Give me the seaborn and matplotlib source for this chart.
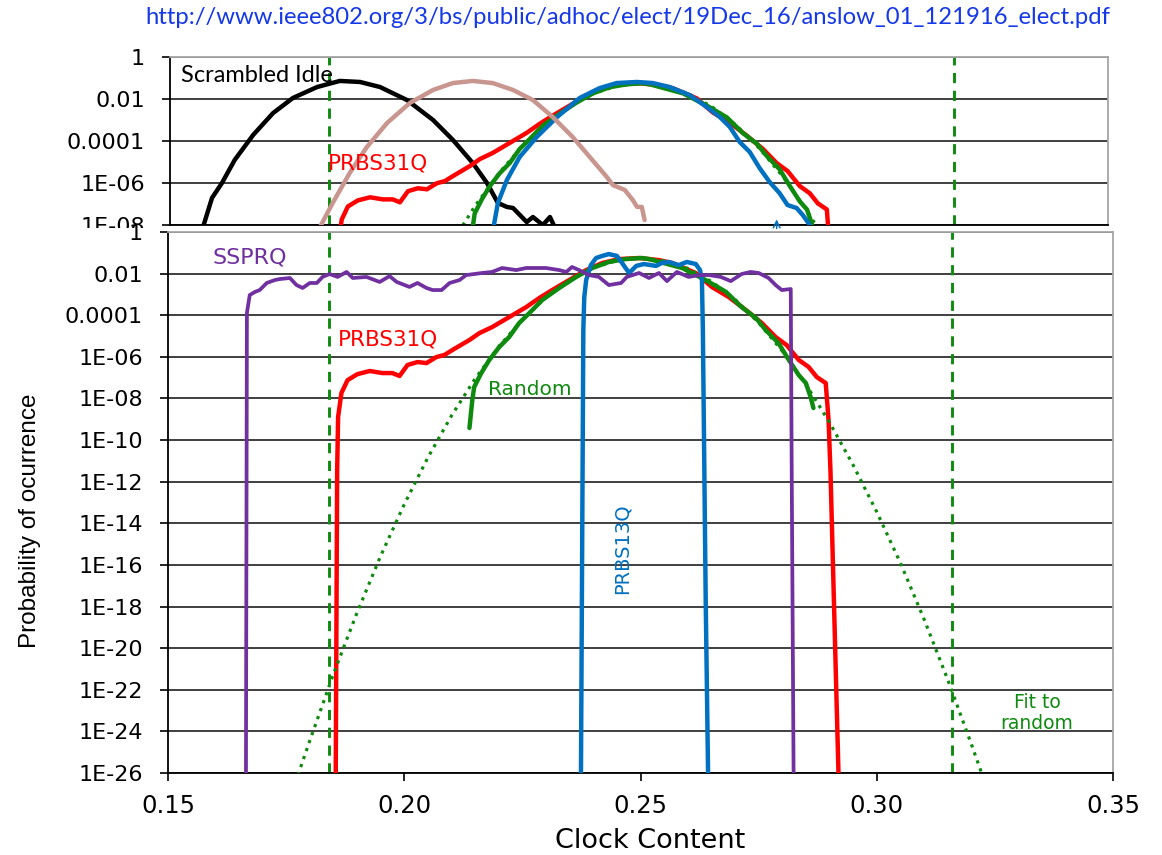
import numpy as np
import pandas as pd
import matplotlib
matplotlib.use("Agg")
import matplotlib.pyplot as plt
import seaborn as sns
from matplotlib.patches import Rectangle
from matplotlib.ticker import NullLocator

# ---------------- data (x = clock content, e = log10 probability) ----------------
idle_x = [0.1574, 0.1593, 0.1614, 0.1641, 0.1680, 0.1722, 0.1764, 0.1815, 0.1863, 0.1906,
          0.1948, 0.2005, 0.2060, 0.2102, 0.2144, 0.2174, 0.2197, 0.2216, 0.2229, 0.2258,
          0.2271, 0.2292, 0.2307, 0.2317, 0.2332]
idle_e = [-8.1, -6.71, -6.0, -4.9, -3.71, -2.67, -1.95, -1.43, -1.14, -1.19,
          -1.43, -2.05, -3.0, -3.95, -5.05, -6.0, -6.95, -7.14, -7.19, -7.86,
          -7.62, -8.0, -7.62, -8.1, -8.1]

rosy_x = [0.1821, 0.1848, 0.1884, 0.1920, 0.1963, 0.2011, 0.2060, 0.2102, 0.2144, 0.2186,
          0.2229, 0.2271, 0.2313, 0.2355, 0.2391, 0.2427, 0.2440, 0.2465, 0.2482, 0.2491,
          0.2501, 0.2507]
rosy_e = [-8.1, -6.95, -5.52, -4.29, -3.14, -2.19, -1.57, -1.24, -1.14, -1.24,
          -1.57, -2.05, -2.86, -3.81, -4.76, -5.71, -6.10, -6.33, -6.81, -7.14,
          -7.14, -7.76]

top_blue_x = [0.2187, 0.2189, 0.2197, 0.2216, 0.2243, 0.2279, 0.2322, 0.2370, 0.2412, 0.2448,
              0.2491, 0.2524, 0.2560, 0.2602, 0.2638, 0.2666, 0.2687, 0.2708, 0.2729, 0.2750,
              0.2771, 0.2792, 0.2809, 0.2828, 0.2841, 0.2856, 0.2862]
top_blue_e = [-8.3, -7.95, -6.95, -5.86, -4.76, -3.81, -2.86, -1.95, -1.48, -1.24,
              -1.19, -1.24, -1.43, -1.81, -2.38, -2.86, -3.33, -4.05, -4.52, -5.29,
              -5.95, -6.48, -7.05, -7.19, -7.52, -8.0, -8.24]

prbs31_x = [0.1855, 0.1858, 0.1860, 0.1867, 0.1880, 0.1901, 0.1927, 0.1954, 0.1975, 0.1990,
            0.2007, 0.2028, 0.2047, 0.2068, 0.2085, 0.2102, 0.2138, 0.2159, 0.2186, 0.2222,
            0.2258, 0.2286, 0.2313, 0.2349, 0.2385, 0.2419, 0.2455, 0.2497, 0.2539, 0.2567,
            0.2617, 0.2651, 0.2687, 0.2723, 0.2757, 0.2786, 0.2809, 0.2835, 0.2856, 0.2873,
            0.2892, 0.2898, 0.2902, 0.2919]
prbs31_e = [-26.0, -11.44, -8.89, -7.74, -7.12, -6.83, -6.68, -6.78, -6.78, -6.92,
            -6.39, -6.25, -6.30, -6.01, -5.91, -5.67, -5.19, -4.86, -4.57, -4.09,
            -3.61, -3.17, -2.79, -2.31, -1.83, -1.49, -1.30, -1.25, -1.35, -1.49,
            -1.97, -2.64, -3.13, -3.75, -4.38, -5.05, -5.43, -6.15, -6.49, -6.97,
            -7.26, -9.04, -11.44, -26.0]

random_x = [0.2138, 0.2144, 0.2148, 0.2163, 0.2180, 0.2201, 0.2222, 0.2243, 0.2265, 0.2292,
            0.2328, 0.2364, 0.2398, 0.2433, 0.2469, 0.2503, 0.2518, 0.2588, 0.2638, 0.2681,
            0.2714, 0.2744, 0.2765, 0.2792, 0.2814, 0.2835, 0.2850, 0.2860, 0.2866]
random_e = [-9.42, -8.08, -7.45, -6.78, -6.15, -5.53, -5.05, -4.38, -3.89, -3.27,
            -2.69, -2.16, -1.73, -1.44, -1.30, -1.25, -1.30, -1.73, -2.31, -2.88,
            -3.61, -4.13, -4.71, -5.34, -6.15, -6.88, -7.26, -7.93, -8.46]

fit_x = [0.1775, 0.180, 0.185, 0.190, 0.195, 0.200, 0.205, 0.210, 0.215, 0.220,
         0.225, 0.230, 0.235, 0.240, 0.245, 0.250, 0.255, 0.260, 0.265, 0.270,
         0.275, 0.280, 0.285, 0.290, 0.295, 0.300, 0.305, 0.310, 0.315, 0.320, 0.3225]
fit_e = [-26.1, -24.45, -21.25, -18.3, -15.57, -13.09, -10.84, -8.83, -7.05, -5.51,
         -4.21, -3.14, -2.32, -1.72, -1.37, -1.25, -1.38, -1.75, -2.38, -3.24,
         -4.36, -5.72, -7.32, -9.15, -11.2, -13.45, -15.9, -18.6, -21.5, -24.6, -26.2]

prbs13_x = [0.2374, 0.2379, 0.2381, 0.2385, 0.2395, 0.2406, 0.2419, 0.2433, 0.2450, 0.2461,
            0.2476, 0.2491, 0.2507, 0.2533, 0.2545, 0.2560, 0.2581, 0.2598, 0.2617, 0.2626,
            0.2630, 0.2632, 0.2638, 0.2643]
prbs13_e = [-26, -4.71, -3.13, -2.31, -1.59, -1.25, -1.15, -1.06, -1.15, -1.49,
            -1.97, -1.63, -1.54, -1.63, -1.49, -1.44, -1.59, -1.44, -1.54, -1.83,
            -2.31, -4.71, -17.7, -26]

ssprq_x = [0.1665, 0.1667, 0.1673, 0.1684, 0.1694, 0.1709, 0.1726, 0.1737, 0.1758, 0.1772,
           0.1785, 0.1800, 0.1815, 0.1827, 0.1842, 0.1859, 0.1878, 0.1891, 0.1920, 0.1948,
           0.1969, 0.1984, 0.2011, 0.2028, 0.2047, 0.2060, 0.2079, 0.2096, 0.2117, 0.2131,
           0.2165, 0.2186, 0.2207, 0.2237, 0.2258, 0.2300, 0.2328, 0.2343, 0.2355, 0.2370,
           0.2391, 0.2412, 0.2433, 0.2459, 0.2471, 0.2497, 0.2518, 0.2539, 0.2556, 0.2577,
           0.2602, 0.2624, 0.2645, 0.2670, 0.2691, 0.2714, 0.2733, 0.2750, 0.2771, 0.2786,
           0.2799, 0.2818, 0.2820, 0.2824]
ssprq_e = [-26, -3.89, -3.03, -2.88, -2.79, -2.45, -2.31, -2.26, -2.21, -2.55,
           -2.69, -2.45, -2.45, -2.16, -2.02, -2.16, -1.92, -2.21, -2.16, -2.40,
           -2.12, -2.40, -2.64, -2.45, -2.69, -2.79, -2.79, -2.45, -2.31, -2.07,
           -1.97, -1.92, -1.73, -1.83, -1.73, -1.73, -1.83, -1.92, -1.68, -1.83,
           -2.07, -2.16, -2.55, -2.45, -2.16, -1.97, -2.21, -1.97, -2.36, -1.92,
           -2.16, -2.07, -2.07, -2.16, -2.36, -2.02, -1.92, -1.97, -2.21, -2.55,
           -2.79, -2.74, -11.44, -26]

limit_x = [0.184, 0.316]          # vertical dashed limit lines
artifact = (0.2786, -8.3, -7.6)   # small blue arrow in top panel

top_tick_e = [0, -2, -4, -6, -8]
top_tick_labels = ['1', '0.01', '0.0001', '1E-06', '1E-08']
bot_tick_e = [0, -2, -4, -6, -8, -10, -12, -14, -16, -18, -20, -22, -24, -26]
bot_tick_labels = ['1', '0.01', '0.0001', '1E-06', '1E-08', '1E-10', '1E-12', '1E-14',
                   '1E-16', '1E-18', '1E-20', '1E-22', '1E-24', '1E-26']
x_ticks = [0.15, 0.20, 0.25, 0.30, 0.35]
x_tick_labels = ['0.15', '0.20', '0.25', '0.30', '0.35']

# ---------------- styling ----------------
sns.set_theme(style="white")
plt.rcParams['font.family'] = ['DejaVu Sans']

RED = '#FF0000'
GREEN = '#0E8A0E'
BLUE = '#0070C0'
PURPLE = '#7030A0'
ROSY = '#C9968F'
BLACK = '#000000'

W, H = 1162, 855
fig = plt.figure(figsize=(W / 100, H / 100), dpi=100)
fig.patch.set_facecolor('white')


def rect(l, t, r, b):
    return [l / W, 1 - b / H, (r - l) / W, (b - t) / H]


ax_top = fig.add_axes(rect(170, 57, 1108, 225), zorder=0)
ax_bot = fig.add_axes(rect(168, 232, 1113, 773), zorder=1)


def draw(ax, x, e, color, lw, ls='-', z=2):
    df = pd.DataFrame({'x': x, 'p': np.power(10.0, np.asarray(e, dtype=float))})
    sns.lineplot(data=df, x='x', y='p', ax=ax, color=color, linewidth=lw,
                 sort=False, estimator=None, zorder=z)
    ln = ax.lines[-1]
    ln.set_linestyle(ls)
    ln.set_solid_joinstyle('round')
    return ln


for ax in (ax_top, ax_bot):
    ax.set_yscale('log')
    ax.set_facecolor('white')

# top panel
draw(ax_top, fit_x, fit_e, GREEN, 2.3, ':', z=2)
draw(ax_top, idle_x, idle_e, BLACK, 3.2, z=3)
draw(ax_top, prbs31_x, prbs31_e, RED, 3.2, z=3)
draw(ax_top, random_x, random_e, GREEN, 3.2, z=4)
draw(ax_top, top_blue_x, top_blue_e, BLUE, 3.2, z=5)
draw(ax_top, rosy_x, rosy_e, ROSY, 3.2, z=6)
ax_top.annotate('', xy=(artifact[0], 10 ** artifact[2]), xytext=(artifact[0], 10 ** artifact[1]),
                arrowprops=dict(arrowstyle='->', color=BLUE, lw=1.1, mutation_scale=12))

# bottom panel
draw(ax_bot, prbs31_x, prbs31_e, RED, 3.2, z=3)
draw(ax_bot, random_x, random_e, GREEN, 3.2, z=4)
draw(ax_bot, fit_x, fit_e, GREEN, 2.3, ':', z=5)
draw(ax_bot, prbs13_x, prbs13_e, BLUE, 3.2, z=6)
draw(ax_bot, ssprq_x, ssprq_e, PURPLE, 2.7, z=7)

for ax in (ax_top, ax_bot):
    for xv in limit_x:
        ax.axvline(xv, color=GREEN, lw=2.1, dashes=(3.5, 2.6), zorder=2)

ax_top.set_xlim(0.15 + 2 / 4733, 0.15 + 940 / 4733)
ax_bot.set_xlim(0.15, 0.35)
ax_top.set_ylim(1e-8, 1)
ax_bot.set_ylim(1e-26, 1)

ax_top.set_yticks([10.0 ** e for e in top_tick_e])
ax_top.set_yticklabels(top_tick_labels)
ax_bot.set_yticks([10.0 ** e for e in bot_tick_e])
ax_bot.set_yticklabels(bot_tick_labels)
ax_bot.set_xticks(x_ticks)
ax_bot.set_xticklabels(x_tick_labels)
ax_top.set_xticks([])

for ax in (ax_top, ax_bot):
    ax.yaxis.set_minor_locator(NullLocator())
    ax.set_axisbelow(True)
    ax.grid(False)
    ax.yaxis.grid(True, color='#303030', lw=1.3)
    ax.set_xlabel('')
    ax.set_ylabel('')
    ax.tick_params(axis='y', which='major', left=True, direction='out', length=6,
                   width=1.2, color='black', labelsize=16, pad=12, labelcolor='black')
    ax.spines['left'].set_color('black')
    ax.spines['left'].set_linewidth(1.3)
    ax.spines['bottom'].set_color('black')
    ax.spines['bottom'].set_linewidth(1.3)
    for s in ('top', 'right'):
        ax.spines[s].set_color('#A6A6A6')
        ax.spines[s].set_linewidth(1.3)

ax_bot.xaxis.set_minor_locator(NullLocator())
ax_bot.tick_params(axis='x', which='major', bottom=True, direction='out', length=6,
                   width=1.2, color='black', labelsize=17.5, pad=9, labelcolor='black')
ax_top.tick_params(axis='x', bottom=False, labelbottom=False)

# mask that cuts the lower part of the top panel's last tick label
fig.add_artist(Rectangle((0, 1 - 246 / H), 164 / W, (246 - 228) / H, transform=fig.transFigure,
                         facecolor='white', edgecolor='none', zorder=0.5))


def ftext(xp, yp, s, **kw):
    fig.text(xp / W, 1 - yp / H, s, **kw)


ftext(628, 18, 'http://www.ieee802.org/3/bs/public/adhoc/elect/19Dec_16/anslow_01_121916_elect.pdf',
      ha='center', va='center', color='#1538E8', fontsize=17.2, family='Lato')
ftext(181, 76, 'Scrambled Idle', ha='left', va='center', color='black', fontsize=17, family='Lato')
ftext(328, 164, 'PRBS31Q', ha='left', va='center', color=RED, fontsize=15.5)
ftext(213, 257, 'SSPRQ', ha='left', va='center', color=PURPLE, fontsize=16)
ftext(338, 339, 'PRBS31Q', ha='left', va='center', color=RED, fontsize=15.5)
ftext(488, 389, 'Random', ha='left', va='center', color=GREEN, fontsize=14.5)
ftext(622, 549, 'PRBS13Q', ha='center', va='center', color=BLUE, fontsize=14, rotation=90)
ftext(1037, 713, 'Fit to\nrandom', ha='center', va='center', color=GREEN, fontsize=13.5,
      linespacing=1.1)
ftext(650, 841, 'Clock Content', ha='center', va='center', color='black', fontsize=19.5)
ftext(30, 521, 'Probability of ocurrence', ha='center', va='center', rotation=90,
      color='black', fontsize=17.5, family='Liberation Sans')

fig.savefig('out.png', dpi=100, facecolor='white')
